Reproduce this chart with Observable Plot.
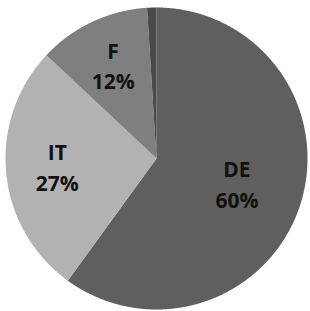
<!DOCTYPE html>
<html><head><meta charset="utf-8">
<script src="https://cdn.jsdelivr.net/npm/d3@7"></script>
<script src="https://cdn.jsdelivr.net/npm/@observablehq/plot@0.6"></script>
<style>body{margin:0;background:#fff}</style>
</head><body><div id="chart"></div>
<script>
const categories = ["DE", "IT", "F", "Other"];
const shares = [60, 27, 12, 1];
const labels = ["DE\n60%", "IT\n27%", "F\n12%", ""];
const colors = ["#5f5f5f", "#b2b2b2", "#7f7f7f", "#4a4a4a"];
const labelRadius = [0.56, 0.66, 0.675, 0];

const arcs = d3.pie().sort(null).value(d => d.v)(categories.map((c, i) => ({c, v: shares[i], i})));
const poly = [];
const labelData = [];
arcs.forEach(a => {
  const c = a.data.c;
  poly.push({c, x: 0, y: 0});
  const n = Math.max(2, Math.ceil((a.endAngle - a.startAngle) / 0.004));
  for (let k = 0; k <= n; k++) {
    const t = a.startAngle + (a.endAngle - a.startAngle) * k / n;
    poly.push({c, x: Math.sin(t), y: Math.cos(t)});
  }
  poly.push({c, x: 0, y: 0});
  const mid = (a.startAngle + a.endAngle) / 2;
  const r = labelRadius[a.data.i];
  if (labels[a.data.i]) labelData.push({x: r * Math.sin(mid), y: r * Math.cos(mid), t: labels[a.data.i]});
});

const chart = Plot.plot({
  width: 310,
  height: 311,
  margin: 0,
  x: {domain: [-1, 1], range: [5, 307], axis: null},
  y: {domain: [-1, 1], range: [309, 7], axis: null},
  color: {domain: categories, range: colors},
  style: {background: "#fff"},
  marks: [
    Plot.line(poly, {x: "x", y: "y", z: "c", fill: "c", stroke: "none", curve: "linear"}),
    Plot.text(labelData, {x: "x", y: "y", text: "t", dy: -2, fontSize: 21, fontWeight: 700, fontFamily: "Open Sans", lineHeight: 1.45, fill: "#111"})
  ]
});
document.getElementById("chart").append(chart);
</script>
</body></html>
